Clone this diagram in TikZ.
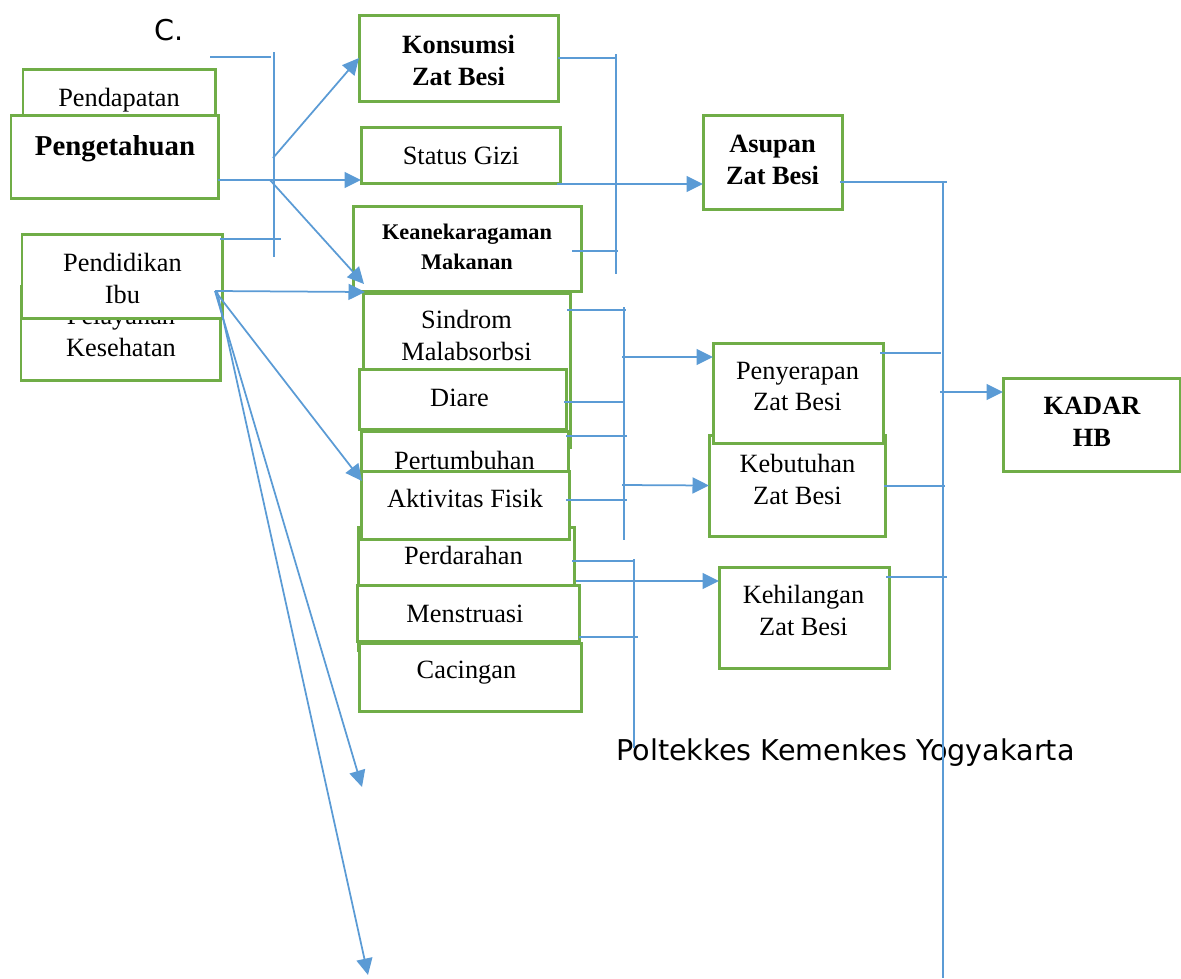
\documentclass[tikz,border=0pt]{standalone}
\usepackage{fontspec}
\setmainfont{Liberation Serif}
\newfontfamily\wmfont{DejaVu Sans}
\usetikzlibrary{arrows.meta,fit,calc}
\definecolor{boxgreen}{RGB}{112,173,71}
\definecolor{linkblue}{RGB}{91,155,213}
\tikzset{
  box/.style={draw=boxgreen, line width=0.06cm, fill=white, inner sep=0pt, outer sep=0pt},
  txt/.style={font=\fontsize{15}{18.2}\selectfont, align=center, inner sep=0pt},
  txtbf/.style={txt, font=\fontsize{15}{18.2}\selectfont\bfseries},
  sanstxt/.style={font=\wmfont\fontsize{16.3}{19}\selectfont, inner sep=0pt},
  link/.style={draw=linkblue, line width=0.035cm},
}

\begin{document}
\begin{tikzpicture}[x=0.02cm, y=-0.02cm, >={Triangle[length=0.33cm,width=0.32cm]}]
\useasboundingbox (0,0) rectangle (1181,978);

\node[sanstxt] (letter) at (169.5,30.5) {C.};

\node[box, fit={(23,69) (215,150)}] (pendapatan) {};
\node[txt] (pendapatan-t) at (119,100) {Pendapatan};
\node[box, fit={(11,115) (218,198)}] (pengetahuan) {};
\node[txtbf, font=\fontsize{16.4}{19}\selectfont\bfseries] (pengetahuan-t) at (115,149) {Pengetahuan};
\node[box, fit={(21,286) (220,380)}] (pelayanan) {};
\node[txt] (pelayanan-t) at (121,331.5) {Pelayanan\\Kesehatan};
\node[box, fit={(22,234) (222,318)}] (pendidikan) {};
\node[txt] (pendidikan-t) at (122.5,278.5) {Pendidikan\\Ibu};

\node[box, fit={(359,15) (558,101)}] (konsumsi) {};
\node[txtbf] (konsumsi-t) at (458.5,60) {Konsumsi\\Zat Besi};
\node[box, fit={(361,127) (560,183)}] (gizi) {};
\node[txt] (gizi-t) at (461,156) {Status Gizi};
\node[box, fit={(353,206) (581,291)}] (ragam) {};
\node[txtbf, font=\fontsize{12.7}{17.1}\selectfont\bfseries] (ragam-t) at (467,247) {Keanekaragaman\\Makanan};

\node[box, fit={(363,293) (570,447)}] (sindrom) {};
\node[txt] (sindrom-t) at (466.5,335) {Sindrom\\Malabsorbsi};
\node[box, fit={(359,369) (566,429)}] (diare) {};
\node[txt] (diare-t) at (459.5,397.5) {Diare};
\node[box, fit={(361,431) (568,520)}] (tumbuh) {};
\node[txt] (tumbuh-t) at (464.5,460) {Pertumbuhan};
\node[box, fit={(358,527) (574,650)}] (perdarahan) {};
\node[txt] (perdarahan-t) at (463.5,555.5) {Perdarahan};
\node[box, fit={(361,471) (569,539)}] (aktivitas) {};
\node[txt] (aktivitas-t) at (465,498.5) {Aktivitas Fisik};
\node[box, fit={(357,585) (579,641)}] (menstruasi) {};
\node[txt] (menstruasi-t) at (465,613.5) {Menstruasi};
\node[box, fit={(359,643) (581,711)}] (cacingan) {};
\node[txt] (cacingan-t) at (466.5,673) {Cacingan};

\node[box, fit={(703,115) (842,209)}] (asupan) {};
\node[txtbf] (asupan-t) at (772.5,159.5) {Asupan\\Zat Besi};
\node[box, fit={(709,435) (885,536)}] (kebutuhan) {};
\node[txt] (kebutuhan-t) at (797.5,479) {Kebutuhan\\Zat Besi};
\node[box, fit={(713,343) (883,443)}] (penyerapan) {};
\node[txt] (penyerapan-t) at (797.5,386.5) {Penyerapan\\Zat Besi};
\node[box, fit={(719,567) (889,668)}] (kehilangan) {};
\node[txt] (kehilangan-t) at (803.5,610.5) {Kehilangan\\Zat Besi};
\node[box, fit={(1003,378) (1180,471)}] (kadar) {};
\node[txtbf] (kadar-t) at (1092,422) {KADAR\\HB};

\node[sanstxt] (poltek) at (845.5,753) {Poltekkes Kemenkes Yogyakarta};

% left bracket and arrows
\draw[link] (274,52) -- (274,257);
\draw[link] (210,57) -- (271,57);
\draw[link] (220,239) -- (281,239);
\draw[link,->] ($(pengetahuan.south east)+(0,-18)$) -- ($(gizi.south west)+(0,-3)$);
\draw[link,->] (273,158) -- (konsumsi.west);
\draw[link,->] (270,180) -- ($(ragam.south west)+(11,-7)$);
\coordinate (ibu) at (215,291);
\coordinate (endA) at (362,787);
\coordinate (endB) at (368,975);
\draw[link,->] (ibu) -- ($(sindrom.north west)+(2,-1)$);
\draw[link,->] (ibu) -- ($(aktivitas.north west)+(1,10)$);
\draw[link,->] (ibu) -- (endA);
\draw[link,->] (217,291) -- (endB);

\draw[link] (616,54) -- (616,274);
\draw[link] (konsumsi.east) -- (617,58);
\draw[link,->] (557,184) -- ($(asupan.south west)+(0,-25)$);
\draw[link] (572,251) -- (618,251);

\draw[link] (624,307) -- (624,540);
\draw[link] (567,310) -- (626,310);
\draw[link,->] (622,357) -- ($(penyerapan.north west)+(0,14)$);
\draw[link] (564,402) -- (625,402);
\draw[link] (566,436) -- (627,436);
\draw[link,->] (622,485) -- (kebutuhan.west);
\draw[link] (566,500) -- (627,500);

\draw[link] (634,559) -- (634,748);
\draw[link] (572,561) -- (633,561);
\draw[link,->] (576,581) -- ($(kehilangan.north west)+(0,14)$);
\draw[link] (579,637) -- (638,637);

\draw[link] (943,182) -- (943,978);
\draw[link] (840,182) -- (947,182);
\draw[link] (880,353) -- (941,353);
\draw[link,->] (940,392) -- ($(kadar.north west)+(0,14)$);
\draw[link] (884,486) -- (945,486);
\draw[link] (886,577) -- (947,577);
\end{tikzpicture}
\end{document}
